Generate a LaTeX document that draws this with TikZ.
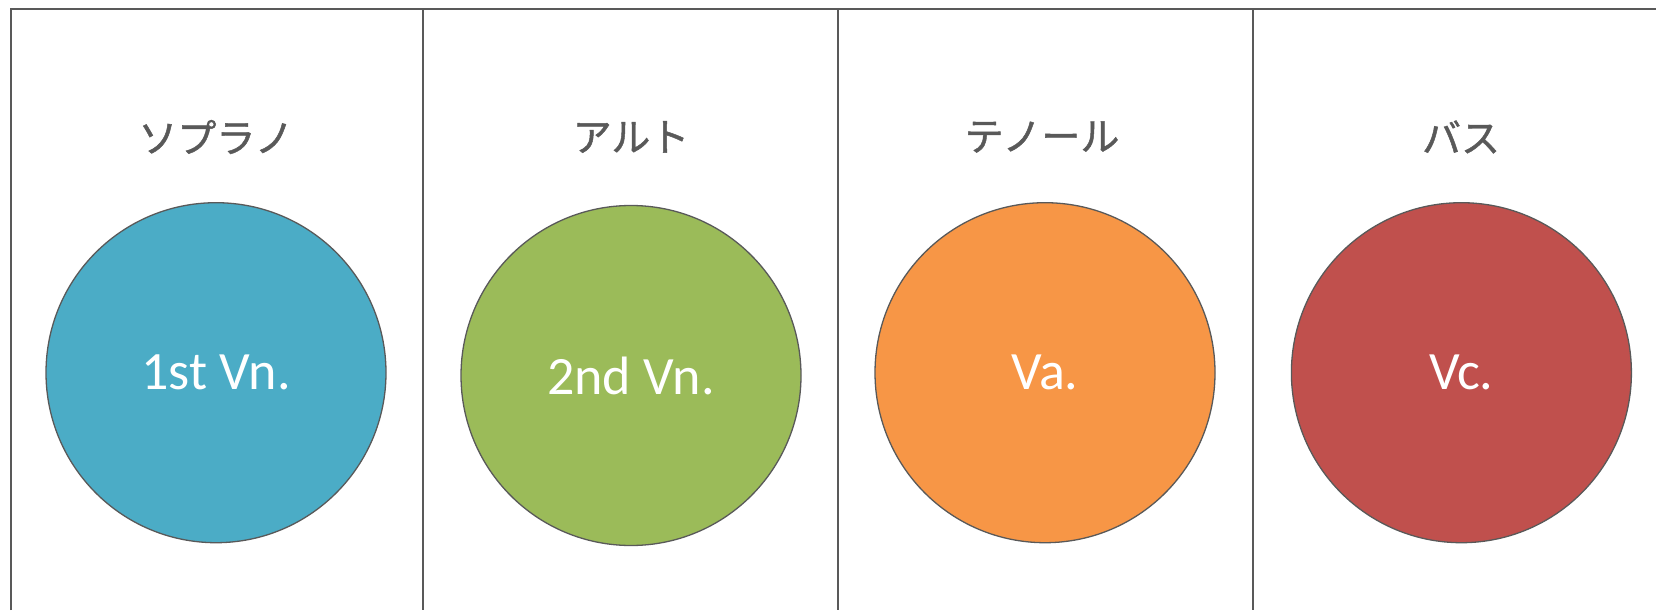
\documentclass[tikz,border=0pt]{standalone}
\usepackage{fontspec}
\setmainfont{Carlito}
\newfontfamily\jpfont[FakeBold=1.2]{Noto Sans CJK JP}
\definecolor{linegray}{HTML}{595959}
\definecolor{cblue}{HTML}{4BACC6}
\definecolor{cgreen}{HTML}{9BBB59}
\definecolor{corange}{HTML}{F79646}
\definecolor{cred}{HTML}{C0504D}
\tikzset{
  frame/.style={draw=linegray, line width=2pt},
  part/.style={circle, draw=linegray, line width=1.3pt, minimum size=340pt, inner sep=0pt,
    text=white, font=\fontsize{54}{60}\selectfont},
  voice/.style={text=linegray, font=\jpfont\fontsize{39}{44}\selectfont, inner sep=0pt}
}
\begin{document}
\begin{tikzpicture}[x=1pt,y=-1pt]
\useasboundingbox (0,0) rectangle (1656,610);
\coordinate (tl) at (10.5,9.5);
\coordinate (tr) at (1656,9.5);
\coordinate (bl) at (10.5,610);
\draw[frame] (bl) -- (tl) -- (tr);
\coordinate (v1t) at (423,9.5);  \coordinate (v1b) at (423,610);
\coordinate (v2t) at (837.5,9.5); \coordinate (v2b) at (837.5,610);
\coordinate (v3t) at (1253,9.5); \coordinate (v3b) at (1253,610);
\draw[frame] (v1t) -- (v1b);
\draw[frame] (v2t) -- (v2b);
\draw[frame] (v3t) -- (v3b);

\node[voice] (s) at (216,137) {ソプラノ};
\node[voice] (a) at (631,137) {アルト};
\node[voice] (t) at (1042,137) {テノール};
\node[voice] (b) at (1461,137) {バス};

\node[part, fill=cblue]   (c1) at (216,372.7) {1st Vn.};
\node[part, fill=cgreen]  (c2) at (631,375.5) {2nd Vn.};
\node[part, fill=corange] (c3) at (1045,372.7) {Va.};
\node[part, fill=cred]    (c4) at (1461.4,372.7) {Vc.};
\end{tikzpicture}
\end{document}
